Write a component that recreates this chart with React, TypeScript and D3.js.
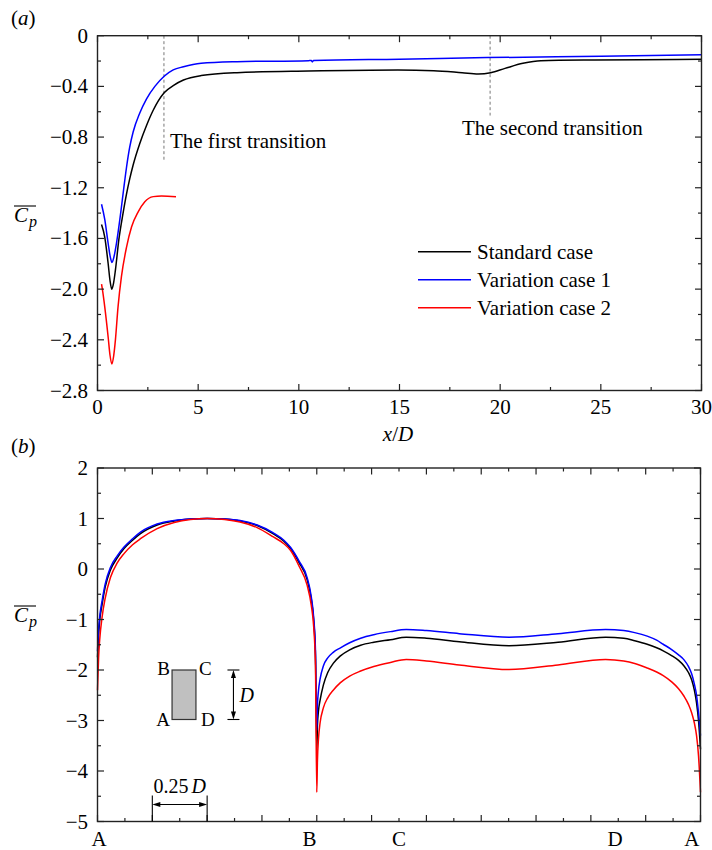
import React from "react";
import * as d3 from "d3";

// ---------- Panel (a): mean pressure coefficient along the wake, x/D ----------
const standardX = [0.2, 0.36, 0.53, 0.62, 0.71, 0.8, 0.89, 1.06, 1.27, 1.44, 1.6, 1.77, 2.1, 2.43, 2.76, 3.31, 3.8, 4.27, 5.15, 6.93, 10.48, 14.92, 16.7, 18.11, 18.91, 19.53, 20.24, 21.13, 22.02, 24.68, 27, 30];
const standardY = [-1.49, -1.59, -1.8, -1.93, -2.0, -1.95, -1.85, -1.61, -1.4, -1.25, -1.13, -1.02, -0.85, -0.71, -0.59, -0.45, -0.39, -0.35, -0.315, -0.292, -0.279, -0.271, -0.276, -0.292, -0.302, -0.292, -0.258, -0.218, -0.197, -0.192, -0.19, -0.186];

const variation1X = [0.2, 0.36, 0.53, 0.64, 0.72, 0.81, 0.94, 1.11, 1.19, 1.3, 1.44, 1.6, 1.77, 2.1, 2.43, 2.85, 3.31, 3.76, 4.27, 5.15, 6.93, 10.48, 10.62, 10.67, 10.73, 15, 19.35, 25, 30];
const variation1Y = [-1.33, -1.45, -1.64, -1.75, -1.79, -1.75, -1.64, -1.45, -1.35, -1.21, -1.04, -0.88, -0.76, -0.61, -0.5, -0.4, -0.32, -0.27, -0.245, -0.218, -0.205, -0.197, -0.196, -0.207, -0.195, -0.185, -0.173, -0.163, -0.15];

const variation2X = [0.2, 0.26, 0.36, 0.53, 0.62, 0.71, 0.8, 0.89, 1.02, 1.19, 1.44, 1.69, 2.02, 2.35, 2.77, 3.18, 3.9];
const variation2Y = [-1.96, -2.02, -2.14, -2.38, -2.52, -2.59, -2.53, -2.4, -2.14, -1.9, -1.67, -1.51, -1.39, -1.31, -1.27, -1.265, -1.27];

const topXTicks = [0, 5, 10, 15, 20, 25, 30];
const topYTicks = [0, -0.4, -0.8, -1.2, -1.6, -2.0, -2.4, -2.8];
const transitions = [
  { x: 3.3, yEnd: -0.99, label: "The first transition", lx: 3.6, ly: -0.89 },
  { x: 19.5, yEnd: -0.63, label: "The second transition", lx: 18.1, ly: -0.78 },
];

// ---------- Panel (b): mean pressure coefficient around the cylinder perimeter ----------
// perimeter coordinate in units of D: A=0, B=1, C=1.375, D=2.375, back to A=2.75
const perimeterS = [
  0, 0.005, 0.01, 0.021, 0.035, 0.059, 0.09, 0.12, 0.16, 0.196, 0.272, 0.35, 0.424, 0.5, 0.58, 0.65, 0.728, 0.8, 0.85, 0.88, 0.92, 0.956, 0.975, 0.986, 0.994, 1.0,
  1.003, 1.008, 1.015, 1.03, 1.05, 1.075, 1.108, 1.15, 1.2, 1.26, 1.336, 1.408, 1.5, 1.65, 1.877, 2.1, 2.317,
  2.4, 2.45, 2.507, 2.55, 2.58, 2.62, 2.65, 2.675, 2.695, 2.71, 2.722, 2.732, 2.741, 2.75,
];
const standardCp = [
  -1.75, -1.3, -1.02, -0.7, -0.36, -0.02, 0.22, 0.4, 0.57, 0.7, 0.87, 0.95, 0.99, 1.0, 0.99, 0.95, 0.86, 0.7, 0.55, 0.41, 0.12, -0.21, -0.6, -1.02, -1.7, -3.6,
  -3.1, -2.8, -2.6, -2.3, -2.05, -1.87, -1.72, -1.6, -1.51, -1.45, -1.4, -1.35, -1.37, -1.44, -1.52, -1.45, -1.35,
  -1.37, -1.42, -1.49, -1.56, -1.62, -1.72, -1.81, -1.92, -2.05, -2.2, -2.4, -2.65, -3.0, -3.57,
];
const variation1Cp = [
  -1.63, -1.2, -0.95, -0.63, -0.3, 0.03, 0.26, 0.43, 0.6, 0.73, 0.89, 0.96, 0.99, 1.0, 0.99, 0.96, 0.87, 0.72, 0.57, 0.43, 0.15, -0.17, -0.55, -0.97, -1.6, -3.2,
  -2.7, -2.4, -2.18, -1.92, -1.76, -1.65, -1.56, -1.46, -1.37, -1.3, -1.24, -1.2, -1.22, -1.28, -1.35, -1.28, -1.2,
  -1.22, -1.26, -1.33, -1.41, -1.49, -1.6, -1.7, -1.8, -1.93, -2.08, -2.28, -2.5, -2.85, -3.3,
];
const variation2Cp = [
  -2.4, -1.75, -1.4, -0.95, -0.58, -0.17, 0.12, 0.3, 0.48, 0.6, 0.8, 0.92, 0.98, 1.0, 0.98, 0.93, 0.82, 0.64, 0.5, 0.37, 0.05, -0.32, -0.72, -1.15, -1.9, -4.42,
  -3.8, -3.35, -3.05, -2.75, -2.55, -2.4, -2.25, -2.12, -2.02, -1.93, -1.85, -1.79, -1.82, -1.9, -1.99, -1.9, -1.79,
  -1.82, -1.87, -1.96, -2.04, -2.11, -2.24, -2.37, -2.52, -2.68, -2.85, -3.05, -3.3, -3.7, -4.42,
];

const bottomYTicks = [2, 1, 0, -1, -2, -3, -4, -5];
const cornerLabels = ["A", "B", "C", "D", "A"];
const cornerLabelS = [0.007, 0.967, 1.375, 2.36, 2.71];

const seriesNames = ["Standard case", "Variation case 1", "Variation case 2"];
const seriesColors = ["#000000", "#0000ff", "#ff0000"];

const FONT = "'Liberation Serif', 'Times New Roman', serif";
const AXIS = "#222";
const FS = 21;

const fmtTop = (v: number) => (Math.abs(v) < 1e-9 ? "0" : d3.format(".1f")(v).replace("-", "\u2212"));
const fmtBottom = (v: number) => d3.format("d")(v).replace("-", "\u2212");

function CpLabel({ x, y }: { x: number; y: number }) {
  return (
    <g fontFamily={FONT} fontStyle="italic">
      <line x1={x} x2={x + 22} y1={y - 16} y2={y - 16} stroke="#000" strokeWidth={1.1} />
      <text x={x} y={y} fontSize={21}>C</text>
      <text x={x + 15} y={y + 5} fontSize={16}>p</text>
    </g>
  );
}

function Frame({ x0, x1, y0, y1 }: { x0: number; x1: number; y0: number; y1: number }) {
  return <rect x={x0} y={y1} width={x1 - x0} height={y0 - y1} fill="none" stroke={AXIS} strokeWidth={1.4} />;
}

export default function App() {
  // scales
  const xA = d3.scaleLinear().domain([0, 30]).range([97.5, 701.5]);
  const yA = d3.scaleLinear().domain([-2.8, 0]).range([390.5, 35.7]);
  const xB = d3.scaleLinear().domain([0, 2.75]).range([97.5, 700.5]);
  const yB = d3.scaleLinear().domain([-5, 2]).range([821.5, 468]);

  const lineA = (xs: number[], ys: number[]) =>
    d3.line<number>().x((_, i) => xA(xs[i])).y((v) => yA(v)).curve(d3.curveMonotoneX)(ys) || "";
  const lineB = (ys: number[]) =>
    d3.line<number>().x((_, i) => xB(perimeterS[i])).y((v) => yB(v)).curve(d3.curveMonotoneX)(ys) || "";

  const MAJ = 6.5;
  const MIN = 3.5;

  // panel (a) ticks
  const aXMinor = topXTicks.slice(0, -1).map((t) => t + 2.5);
  const aYMinor = topYTicks.slice(0, -1).map((t) => t - 0.2);
  // panel (b) ticks
  const bXAll = d3.range(0, 2.75 + 1e-9, 0.125);
  const bYMinor = bottomYTicks.slice(0, -1).map((t) => t - 0.5);

  const [ax0, ax1] = xA.range();
  const [ay0, ay1] = yA.range();
  const [bx0, bx1] = xB.range();
  const [by0, by1] = yB.range();

  const topSeries = [
    { xs: standardX, ys: standardY },
    { xs: variation1X, ys: variation1Y },
    { xs: variation2X, ys: variation2Y },
  ];
  const bottomSeries = [standardCp, variation1Cp, variation2Cp];

  // inset geometry (in panel (b) data units)
  const rectS0 = 0.34, rectS1 = 0.449, rectTop = -2.0, rectBot = -2.98;
  const dimS = 0.62;

  return (
    <svg
      width={712}
      height={850}
      viewBox="0 0 712 850"
      style={{ position: "absolute", left: 0, top: 0, background: "#fff" }}
      fontFamily={FONT}
    >
      <rect width={712} height={850} fill="#fff" />

      {/* ================= Panel (a) ================= */}
      <text x={11} y={25} fontSize={FS}>
        (<tspan fontStyle="italic">a</tspan>)
      </text>

      {/* transition markers */}
      {transitions.map((t, i) => (
        <g key={i}>
          <line x1={xA(t.x)} x2={xA(t.x)} y1={yA(0)} y2={yA(t.yEnd)} stroke="#777" strokeWidth={1} strokeDasharray="3,2.5" />
          <text x={xA(t.lx)} y={yA(t.ly)} fontSize={FS}>{t.label}</text>
        </g>
      ))}

      {topSeries.map((s, i) => (
        <path key={i} d={lineA(s.xs, s.ys)} fill="none" stroke={seriesColors[i]} strokeWidth={1.5} />
      ))}

      <Frame x0={ax0} x1={ax1} y0={ay0} y1={ay1} />
      {topXTicks.map((t) => (
        <g key={"ax" + t}>
          <line x1={xA(t)} x2={xA(t)} y1={ay0} y2={ay0 - MAJ} stroke={AXIS} strokeWidth={1.2} />
          <line x1={xA(t)} x2={xA(t)} y1={ay1} y2={ay1 + MAJ} stroke={AXIS} strokeWidth={1.2} />
          <text x={xA(t)} y={413.5} fontSize={FS} textAnchor="middle">{t}</text>
        </g>
      ))}
      {aXMinor.map((t) => (
        <g key={"axm" + t}>
          <line x1={xA(t)} x2={xA(t)} y1={ay0} y2={ay0 - MIN} stroke={AXIS} strokeWidth={1.2} />
          <line x1={xA(t)} x2={xA(t)} y1={ay1} y2={ay1 + MIN} stroke={AXIS} strokeWidth={1.2} />
        </g>
      ))}
      {topYTicks.map((t) => (
        <g key={"ay" + t}>
          <line x1={ax0} x2={ax0 + MAJ} y1={yA(t)} y2={yA(t)} stroke={AXIS} strokeWidth={1.2} />
          <line x1={ax1} x2={ax1 - MAJ} y1={yA(t)} y2={yA(t)} stroke={AXIS} strokeWidth={1.2} />
          <text x={88} y={yA(t) + 7} fontSize={FS} textAnchor="end">{fmtTop(t)}</text>
        </g>
      ))}
      {aYMinor.map((t) => (
        <g key={"aym" + t}>
          <line x1={ax0} x2={ax0 + MIN} y1={yA(t)} y2={yA(t)} stroke={AXIS} strokeWidth={1.2} />
          <line x1={ax1} x2={ax1 - MIN} y1={yA(t)} y2={yA(t)} stroke={AXIS} strokeWidth={1.2} />
        </g>
      ))}

      {/* x/D axis title */}
      <text x={398} y={441} fontSize={FS} textAnchor="middle">
        <tspan fontStyle="italic">x</tspan>/<tspan fontStyle="italic">D</tspan>
      </text>
      <CpLabel x={14} y={222} />

      {/* legend */}
      {seriesNames.map((n, i) => (
        <g key={n}>
          <line x1={418} x2={471} y1={251.7 + i * 28} y2={251.7 + i * 28} stroke={seriesColors[i]} strokeWidth={1.5} />
          <text x={477} y={251.7 + i * 28 + 7} fontSize={FS}>{n}</text>
        </g>
      ))}

      {/* ================= Panel (b) ================= */}
      <text x={11} y={453} fontSize={FS}>
        (<tspan fontStyle="italic">b</tspan>)
      </text>

      {bottomSeries.map((ys, i) => (
        <path key={i} d={lineB(ys)} fill="none" stroke={seriesColors[i]} strokeWidth={1.5} />
      ))}

      <Frame x0={bx0} x1={bx1} y0={by0} y1={by1} />
      {bXAll.map((t, i) => {
        const len = i % 2 === 0 ? MAJ : MIN;
        return (
          <g key={"bx" + i}>
            <line x1={xB(t)} x2={xB(t)} y1={by0} y2={by0 - len} stroke={AXIS} strokeWidth={1.2} />
            <line x1={xB(t)} x2={xB(t)} y1={by1} y2={by1 + len} stroke={AXIS} strokeWidth={1.2} />
          </g>
        );
      })}
      {cornerLabels.map((c, i) => (
        <text key={"cl" + i} x={xB(cornerLabelS[i])} y={846} fontSize={FS} textAnchor="middle">{c}</text>
      ))}
      {bottomYTicks.map((t) => (
        <g key={"by" + t}>
          <line x1={bx0} x2={bx0 + MAJ} y1={yB(t)} y2={yB(t)} stroke={AXIS} strokeWidth={1.2} />
          <line x1={bx1} x2={bx1 - MAJ} y1={yB(t)} y2={yB(t)} stroke={AXIS} strokeWidth={1.2} />
          <text x={88} y={yB(t) + 7} fontSize={FS} textAnchor="end">{fmtBottom(t)}</text>
        </g>
      ))}
      {bYMinor.map((t) => (
        <g key={"bym" + t}>
          <line x1={bx0} x2={bx0 + MIN} y1={yB(t)} y2={yB(t)} stroke={AXIS} strokeWidth={1.2} />
          <line x1={bx1} x2={bx1 - MIN} y1={yB(t)} y2={yB(t)} stroke={AXIS} strokeWidth={1.2} />
        </g>
      ))}
      <CpLabel x={14} y={622} />

      {/* cylinder cross-section sketch */}
      <rect
        x={xB(rectS0)}
        y={yB(rectTop)}
        width={xB(rectS1) - xB(rectS0)}
        height={yB(rectBot) - yB(rectTop)}
        fill="#c0c0c0"
        stroke="#333"
        strokeWidth={1.2}
      />
      <text x={xB(rectS0) - 2} y={yB(rectTop) + 5} fontSize={19} textAnchor="end">B</text>
      <text x={xB(rectS1) + 3} y={yB(rectTop) + 5} fontSize={19}>C</text>
      <text x={xB(rectS0) - 2} y={yB(rectBot) + 7} fontSize={19} textAnchor="end">A</text>
      <text x={xB(rectS1) + 5} y={yB(rectBot) + 7} fontSize={19}>D</text>

      {/* side length D */}
      <g stroke="#000" strokeWidth={1.1}>
        <line x1={xB(dimS) - 6} x2={xB(dimS) + 6} y1={yB(rectTop)} y2={yB(rectTop)} />
        <line x1={xB(dimS) - 6} x2={xB(dimS) + 6} y1={yB(rectBot)} y2={yB(rectBot)} />
        <line x1={xB(dimS)} x2={xB(dimS)} y1={yB(rectTop) + 6} y2={yB(rectBot) - 6} />
      </g>
      <path
        d={`M${xB(dimS)},${yB(rectTop)} l-2.5,8 l5,0 Z M${xB(dimS)},${yB(rectBot)} l-2.5,-8 l5,0 Z`}
        fill="#000"
      />
      <text x={xB(dimS) + 6} y={yB(rectBot) - 17} fontSize={20} fontStyle="italic">D</text>

      {/* 0.25 D scale bar */}
      <g stroke="#000" strokeWidth={1.1}>
        <line x1={xB(0.25)} x2={xB(0.25)} y1={by0} y2={by0 - 26} />
        <line x1={xB(0.5)} x2={xB(0.5)} y1={by0} y2={by0 - 26} />
        <line x1={xB(0.25) + 6} x2={xB(0.5) - 6} y1={by0 - 17} y2={by0 - 17} />
      </g>
      <path
        d={`M${xB(0.25)},${by0 - 17} l8,-2.5 l0,5 Z M${xB(0.5)},${by0 - 17} l-8,-2.5 l0,5 Z`}
        fill="#000"
      />
      <text x={xB(0.375)} y={by0 - 29} fontSize={20} textAnchor="middle">
        0.25<tspan dx={3} fontStyle="italic">D</tspan>
      </text>
    </svg>
  );
}
